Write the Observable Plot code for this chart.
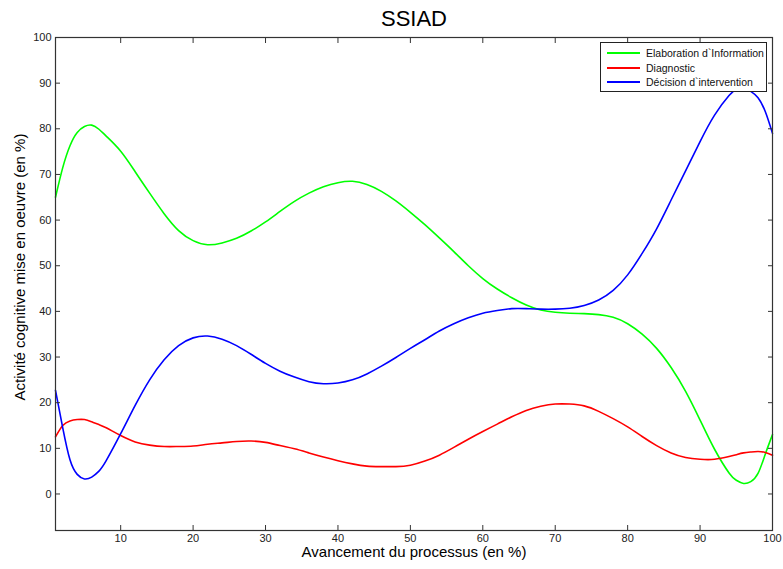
<!DOCTYPE html>
<html><head><meta charset="utf-8">
<script src="https://cdn.jsdelivr.net/npm/d3@7"></script>
<script src="https://cdn.jsdelivr.net/npm/@observablehq/plot@0.6"></script>
<style>
body{margin:0;background:#fff;}
#chart{position:relative;width:783px;height:569px;font-family:"Liberation Sans",Arial,sans-serif;}
.legend{position:absolute;left:600px;top:42px;width:165px;height:48px;border:1px solid #222;background:#fff;font-size:10.5px;color:#111;}
.row{position:absolute;left:6px;height:14px;display:flex;align-items:center;white-space:nowrap;}
.sw{display:inline-block;width:33px;height:0;border-top:2px solid;margin-right:6px;}
</style></head>
<body><div id="chart"></div>
<script>
const title = "SSIAD";
const xLabel = "Avancement du processus (en %)";
const yLabel = "Activité cognitive mise en oeuvre (en %)";
const seriesNames = ["Elaboration d`Information", "Diagnostic", "Décision d`intervention"];
const seriesColors = ["#00ff00", "#ff0000", "#0000ff"];
const xTicks = [10,20,30,40,50,60,70,80,90,100];
const yTicks = [0,10,20,30,40,50,60,70,80,90,100];

const progress = [1,2,3,4,5,6,7,8,10,12,14,16,18,20,22,24,26,28,30,32,34,36,38,40,42,44,46,48,50,52,54,56,58,60,62,64,66,68,70,72,74,76,78,80,82,84,86,88,90,92,94,95,96,97,98,99,100];
const elaboration = [65.0,71.5,76.3,79.2,80.5,80.8,79.9,78.4,75.1,70.6,65.9,61.4,57.7,55.5,54.6,55.0,56.0,57.6,59.6,61.9,64.1,65.9,67.3,68.2,68.5,67.8,66.3,64.2,61.7,59.0,56.1,53.1,50.0,47.2,44.9,43.0,41.4,40.3,39.8,39.6,39.5,39.3,38.7,37.3,35.0,31.9,27.7,22.5,16.2,9.8,4.6,3.0,2.3,2.7,4.5,8.7,13.0];
const diagnostic = [12.5,15.0,16.0,16.3,16.3,15.8,15.2,14.5,12.8,11.4,10.7,10.4,10.4,10.5,10.9,11.2,11.5,11.6,11.3,10.6,9.9,9.0,8.1,7.3,6.6,6.1,6.0,6.0,6.3,7.2,8.5,10.2,12.0,13.7,15.3,16.9,18.3,19.2,19.7,19.7,19.3,18.1,16.5,14.7,12.6,10.6,9.0,8.0,7.6,7.6,8.2,8.6,9.0,9.2,9.3,9.1,8.5];
const decision = [22.7,14.5,7.5,4.3,3.3,3.7,5.0,7.3,13.2,19.4,25.0,29.4,32.5,34.2,34.6,33.9,32.5,30.6,28.6,26.9,25.6,24.6,24.15,24.3,25.0,26.3,28.0,29.9,31.9,33.8,35.7,37.3,38.6,39.6,40.2,40.6,40.6,40.5,40.5,40.7,41.3,42.5,44.6,48.0,52.7,58.1,64.4,70.8,77.2,83.0,87.3,88.6,88.9,88.2,86.8,83.8,79.0];

const seriesValues = [elaboration, diagnostic, decision];
const rows = [];
seriesValues.forEach((vals, s) => vals.forEach((v, i) => rows.push({x: progress[i], y: v, series: seriesNames[s]})));

const font = '"Liberation Sans", Arial, sans-serif';
const axisColor = "#333";
const noText = () => "";

const chart = Plot.plot({
  width: 783, height: 569,
  marginLeft: 55, marginRight: 11, marginTop: 37, marginBottom: 39,
  style: {fontFamily: font, fontSize: "11px", color: "#222", background: "#fff", overflow: "visible"},
  x: {domain: [1, 100], label: null},
  y: {domain: [-8, 100], label: null},
  color: {domain: seriesNames, range: seriesColors},
  marks: [
    Plot.line(rows, {x: "x", y: "y", z: "series", stroke: "series", strokeWidth: 1.6, curve: "natural"}),
    Plot.frame({stroke: axisColor, strokeWidth: 1.2}),
    Plot.axisY(yTicks, {anchor: "left", tickSize: 5, dx: 5, stroke: axisColor, tickFormat: noText, label: null}),
    Plot.axisY(yTicks, {anchor: "right", tickSize: 5, dx: -5, stroke: axisColor, tickFormat: noText, label: null}),
    Plot.axisX(xTicks, {anchor: "bottom", tickSize: 5, dy: -5, stroke: axisColor, tickFormat: noText, label: null}),
    Plot.axisX(xTicks, {anchor: "top", tickSize: 5, dy: 5, stroke: axisColor, tickFormat: noText, label: null}),
    Plot.axisY(yTicks, {anchor: "left", tickSize: 0, tickPadding: 4, fill: "#222", fontSize: 11, label: null}),
    Plot.axisX(xTicks, {anchor: "bottom", tickSize: 0, tickPadding: 4, fill: "#222", fontSize: 11, label: null}),
    Plot.text([title], {frameAnchor: "top", lineAnchor: "middle", dy: -19, fontSize: 22, fill: "#000"}),
    Plot.text([xLabel], {frameAnchor: "bottom", lineAnchor: "middle", dy: 22, fontSize: 15, fill: "#000"}),
    Plot.text([yLabel], {frameAnchor: "left", textAnchor: "middle", lineAnchor: "middle", rotate: -90, dx: -35, dy: -17, fontSize: 15, fill: "#000"})
  ]
});

const container = document.getElementById("chart");
container.appendChild(chart);

const legend = document.createElement("div");
legend.className = "legend";
const tops = [3, 18, 32];
seriesNames.forEach((name, i) => {
  const row = document.createElement("div");
  row.className = "row";
  row.style.top = tops[i] + "px";
  const sw = document.createElement("span");
  sw.className = "sw";
  sw.style.borderTopColor = seriesColors[i];
  const label = document.createElement("span");
  label.textContent = name;
  row.appendChild(sw);
  row.appendChild(label);
  legend.appendChild(row);
});
container.appendChild(legend);
</script>
</body></html>
